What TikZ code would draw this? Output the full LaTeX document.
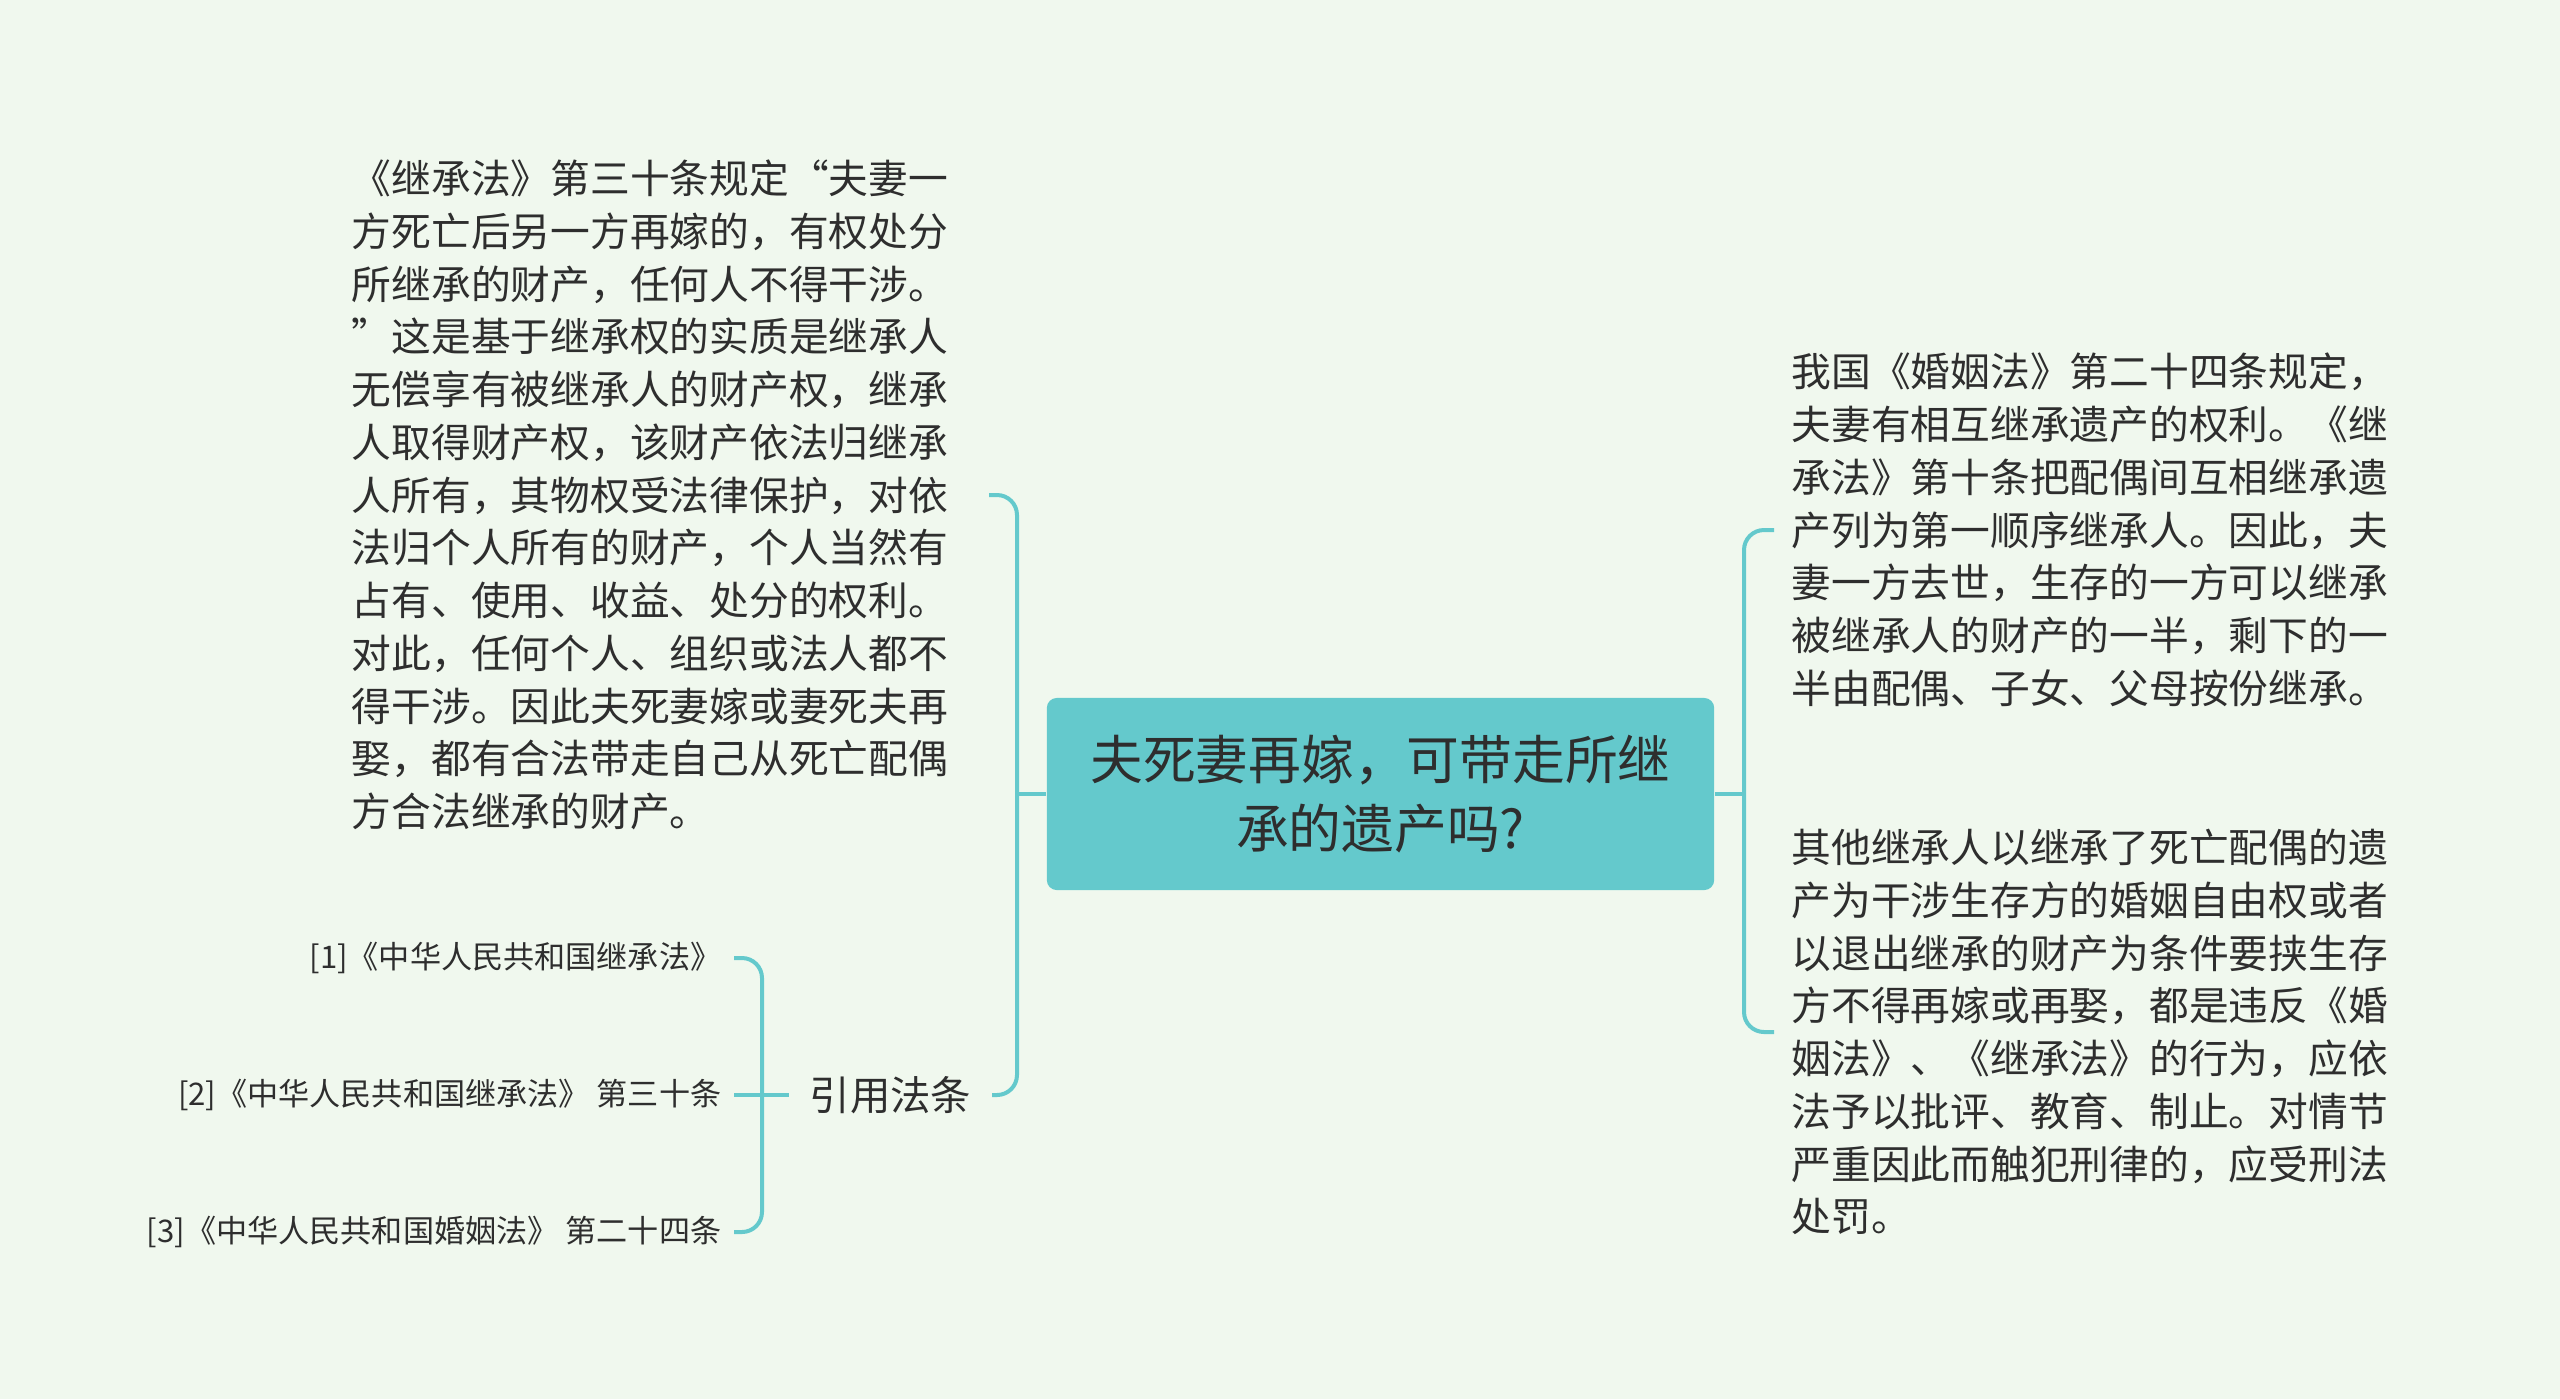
\documentclass[tikz,border=0pt]{standalone}
\usepackage{fontspec}
\setmainfont{Noto Sans CJK SC}
\usepackage{xcolor}
\usetikzlibrary{positioning}
\definecolor{bgclr}{HTML}{F0F8EE}
\definecolor{tealclr}{HTML}{64C9CC}
\definecolor{txtclr}{HTML}{2E2E2E}
\tikzset{
  topic/.style={fill=tealclr, rounded corners=0.1cm, minimum width=6.67cm, minimum height=1.92cm, align=center, text=txtclr, font=\fontsize{15pt}{19.5pt}\selectfont},
  leaf/.style={inner xsep=0.17cm, inner ysep=0pt, align=left, text=txtclr, font=\fontsize{11.3pt}{15pt}\selectfont},
  cite/.style={inner xsep=0.12cm, inner ysep=0pt, text=txtclr, font=\fontsize{8.85pt}{11pt}\selectfont},
  link/.style={draw=tealclr, line width=0.04cm, rounded corners=0.2cm},
}

\begin{document}
\begin{tikzpicture}[x=0.01cm, y=-0.01cm]
  \fill[bgclr] (0,0) rectangle (2560,1399);
  \useasboundingbox (0,0) rectangle (2560,1399);

  % centre topic
  \node[topic] (main) at (1380.5,794) {夫死妻再嫁，可带走所继\\承的遗产吗?};

  % left side
  \node[leaf, text width=6.19cm, anchor=east] (lt) at (989,495) {%
    《继承法》第三十条规定“夫妻一\\
    方死亡后另一方再嫁的，有权处分\\
    所继承的财产，任何人不得干涉。\\
    ”这是基于继承权的实质是继承人\\
    无偿享有被继承人的财产权，继承\\
    人取得财产权，该财产依法归继承\\
    人所有，其物权受法律保护，对依\\
    法归个人所有的财产，个人当然有\\
    占有、使用、收益、处分的权利。\\
    对此，任何个人、组织或法人都不\\
    得干涉。因此夫死妻嫁或妻死夫再\\
    娶，都有合法带走自己从死亡配偶\\
    方合法继承的财产。};
  \node[leaf, inner xsep=0.2cm, font=\fontsize{11.5pt}{14pt}\selectfont] (refs) at (890.5,1095) {引用法条};
  \foreach \i/\y/\t in {1/958/{[1]《中华人民共和国继承法》},
                        2/1095/{[2]《中华人民共和国继承法》 第三十条},
                        3/1232/{[3]《中华人民共和国婚姻法》 第二十四条}}{
    \node[cite, anchor=east] (c\i) at (734,\y) {\t};
  }

  % right side
  \node[leaf, text width=6.1cm, anchor=west] (rt) at (1774,530) {%
    我国《婚姻法》第二十四条规定，\\
    夫妻有相互继承遗产的权利。《继\\
    承法》第十条把配偶间互相继承遗\\
    产列为第一顺序继承人。因此，夫\\
    妻一方去世，生存的一方可以继承\\
    被继承人的财产的一半，剩下的一\\
    半由配偶、子女、父母按份继承。};
  \node[leaf, text width=6.1cm, anchor=west] (rb) at (1774,1032) {%
    其他继承人以继承了死亡配偶的遗\\
    产为干涉生存方的婚姻自由权或者\\
    以退出继承的财产为条件要挟生存\\
    方不得再嫁或再娶，都是违反《婚\\
    姻法》、《继承法》的行为，应依\\
    法予以批评、教育、制止。对情节\\
    严重因此而触犯刑律的，应受刑法\\
    处罚。};

  % connectors
  \coordinate (lhub) at (1017,794);
  \coordinate (rhub) at (1744,794);
  \coordinate (chub) at (762,1095);
  \draw[link] (main.west) -- (lhub);
  \draw[link] (lt.east) -| (lhub) |- (refs.east);
  \draw[link] (main.east) -- (rhub);
  \draw[link] (rt.west) -| (rhub) |- (rb.west);
  \draw[link] (c1.east) -| (chub) |- (c3.east);
  \draw[link] (c2.east) -- (refs.west);
\end{tikzpicture}
\end{document}
